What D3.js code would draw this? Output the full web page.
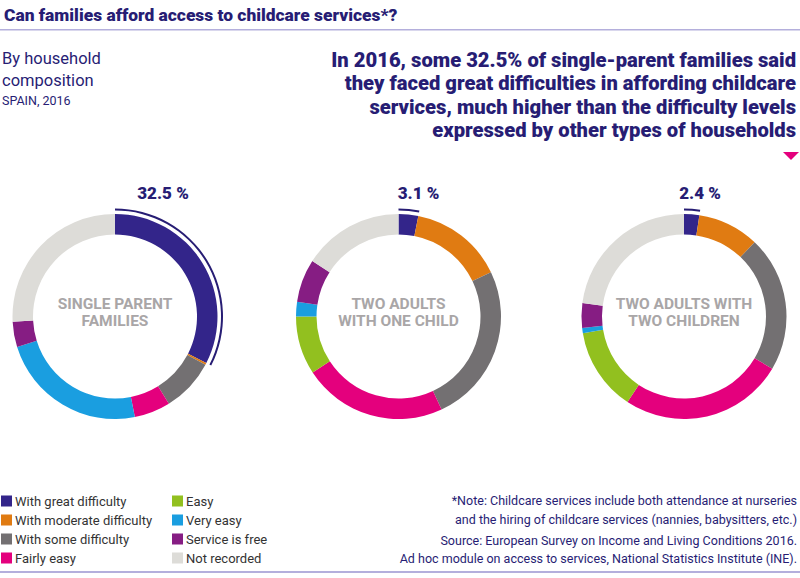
<!DOCTYPE html>
<html>
<head>
<meta charset="utf-8">
<script src="https://d3js.org/d3.v7.min.js"></script>
<style>
  body { margin: 0; background: #fff; }
  svg { display: block; font-family: Roboto, "Liberation Sans", sans-serif; }
</style>
</head>
<body>
<div id="chart"></div>
<script>
// categories (legend order = slice order, clockwise from 12 o'clock)
const categories = [
  "With great difficulty",
  "With moderate difficulty",
  "With some difficulty",
  "Fairly easy",
  "Easy",
  "Very easy",
  "Service is free",
  "Not recorded"
];

// household types (centre labels, two lines each)
const households = [
  ["SINGLE PARENT", "FAMILIES"],
  ["TWO ADULTS", "WITH ONE CHILD"],
  ["TWO ADULTS WITH", "TWO CHILDREN"]
];

// % of households per category
const singleParent = [32.5, 0.3, 8.4, 5.7, 0, 23.3, 4.0, 25.8];
const twoAdultsOneChild = [3.1, 14.8, 25.2, 22.7, 9.2, 2.3, 6.8, 15.9];
const twoAdultsTwoChildren = [2.4, 9.7, 21.4, 25.8, 13.1, 0.8, 3.9, 22.9];

const series = [singleParent, twoAdultsOneChild, twoAdultsTwoChildren];

const palette = [
  "#33258a", "#e07b12", "#737072", "#e4007d",
  "#92c01f", "#1a9ee0", "#861d83", "#dddcd8"
];

const navy = "#271d74";
const lavender = "#b4afdc";

const width = 800;
const height = 578;

const svg = d3
  .select("#chart")
  .append("svg")
  .attr("width", width)
  .attr("height", height);

// header
svg.append("text")
  .attr("x", 4)
  .attr("y", 21)
  .attr("fill", navy)
  .attr("font-weight", 900)
  .attr("font-size", 17.4)
  .text("Can families afford access to childcare services*?");

svg.append("rect")
  .attr("x", 0).attr("y", 29)
  .attr("width", width).attr("height", 1.5)
  .attr("fill", lavender);

svg.append("text")
  .attr("x", 2).attr("y", 64)
  .attr("fill", navy)
  .attr("font-size", 16.5)
  .text("By household");
svg.append("text")
  .attr("x", 2).attr("y", 86)
  .attr("fill", navy)
  .attr("font-size", 16.5)
  .text("composition");
svg.append("text")
  .attr("x", 2).attr("y", 105)
  .attr("fill", navy)
  .attr("font-size", 12.5)
  .text("SPAIN, 2016");

const headline = [
  "In 2016, some 32.5% of single-parent families said",
  "they faced great difficulties in affording childcare",
  "services, much higher than the difficulty levels",
  "expressed by other types of households"
];
svg.append("g")
  .selectAll("text")
  .data(headline)
  .join("text")
  .attr("x", 796)
  .attr("y", (d, i) => 67 + i * 23.4)
  .attr("text-anchor", "end")
  .attr("fill", navy)
  .attr("font-weight", 900)
  .attr("font-size", 20.2)
  .text(d => d);

// small pink marker
svg.append("path")
  .attr("d", "M783,152 L799,152 L791,160 Z")
  .attr("fill", "#e4007d");

// donuts
const centers = [115, 398.5, 684];
const cy = 316.5;
const labelDx = [48, 20, 16];

const pie = d3.pie().sort(null).value(d => d);
const arc = d3.arc().innerRadius(82).outerRadius(102.5);
const mark = d3.arc().innerRadius(106).outerRadius(108);

series.forEach((values, k) => {
  const g = svg.append("g")
    .attr("transform", `translate(${centers[k]},${cy})`);

  const slices = pie(values);

  g.selectAll("path.slice")
    .data(slices)
    .join("path")
    .attr("class", "slice")
    .attr("d", arc)
    .attr("fill", (d, i) => palette[i]);

  // highlight of the "great difficulty" share
  const first = slices[0];
  g.append("path")
    .attr("d", mark({ startAngle: first.startAngle, endAngle: first.endAngle }))
    .attr("fill", navy);

  g.append("text")
    .attr("x", labelDx[k])
    .attr("y", -118)
    .attr("text-anchor", "middle")
    .attr("fill", navy)
    .attr("font-weight", 900)
    .attr("font-size", 17)
    .text(`${values[0]} %`);

  g.selectAll("text.center")
    .data(households[k])
    .join("text")
    .attr("class", "center")
    .attr("y", (d, i) => -8 + i * 17)
    .attr("text-anchor", "middle")
    .attr("fill", "#a9a6a7")
    .attr("font-weight", 700)
    .attr("font-size", 15.5)
    .text(d => d);
});

// legend
const legend = svg.append("g")
  .selectAll("g")
  .data(categories)
  .join("g")
  .attr("transform", (d, i) =>
    `translate(${i < 4 ? 1 : 172},${501 + (i % 4) * 19})`);

legend.append("rect")
  .attr("x", 0).attr("y", -5.5)
  .attr("width", 11).attr("height", 11)
  .attr("fill", (d, i) => palette[i]);

legend.append("text")
  .attr("x", 14)
  .attr("y", 5)
  .attr("fill", "#333")
  .attr("font-size", 13)
  .text(d => d);

// notes
const notes = [
  { t: "*Note: Childcare services include both attendance at nurseries", y: 505 },
  { t: "and the hiring of childcare services (nannies, babysitters, etc.)", y: 524 },
  { t: "Source: European Survey on Income and Living Conditions 2016.", y: 545 },
  { t: "Ad hoc module on access to services, National Statistics Institute (INE).", y: 563 }
];
svg.append("g")
  .selectAll("text")
  .data(notes)
  .join("text")
  .attr("x", 797)
  .attr("y", d => d.y)
  .attr("text-anchor", "end")
  .attr("fill", navy)
  .attr("font-size", 12.5)
  .text(d => d.t);

svg.append("rect")
  .attr("x", 0).attr("y", 571)
  .attr("width", width).attr("height", 2)
  .attr("fill", lavender);
</script>
</body>
</html>
